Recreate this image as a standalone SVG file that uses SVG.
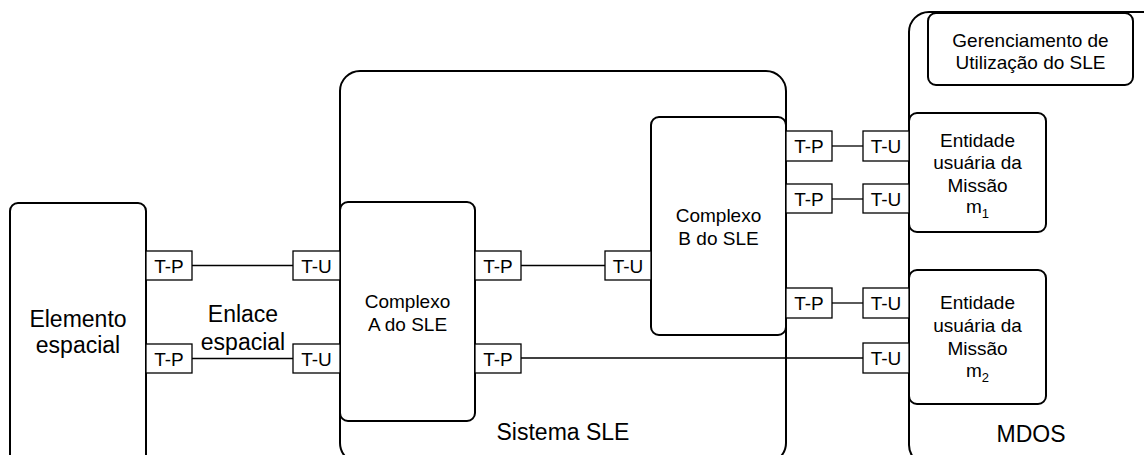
<svg xmlns="http://www.w3.org/2000/svg" width="1144" height="455" viewBox="0 0 1144 455">
<style>
  .frame { fill: #fff; stroke: #000; stroke-width: 2; }
  .box { fill: #fff; stroke: #000; stroke-width: 2; }
  .port { fill: #fff; stroke: #000; stroke-width: 1.3; }
  .link { stroke: #000; stroke-width: 1.3; fill: none; }
  text { font-family: "Liberation Sans", Arial, sans-serif; fill: #000; text-anchor: middle; }
  .s { font-size: 19px; }
  .l { font-size: 23px; }
  .sub { font-size: 13px; }
</style>
<rect width="1144" height="455" fill="#fff"/>

<g id="sistema-sle">
  <rect class="frame" x="340" y="71" width="446" height="392" rx="20"/>
  <text class="l" x="563" y="440">Sistema SLE</text>
</g>

<g id="mdos">
  <rect class="frame" x="909" y="12" width="300" height="453" rx="20"/>
  <text class="l" x="1031" y="442">MDOS</text>
</g>

<g id="elemento-espacial">
  <rect class="box" x="10" y="203" width="136" height="275" rx="8"/>
  <text class="l" x="78" y="327">Elemento</text>
  <text class="l" x="78" y="353">espacial</text>
</g>

<g id="enlace-label">
  <text class="l" x="243" y="322">Enlace</text>
  <text class="l" x="243" y="350">espacial</text>
</g>

<g id="complexo-a">
  <rect class="box" x="340" y="202" width="135" height="219" rx="8"/>
  <text class="s" x="407.5" y="308">Complexo</text>
  <text class="s" x="407.5" y="331">A do SLE</text>
</g>

<g id="complexo-b">
  <rect class="box" x="651" y="117" width="135" height="218" rx="8"/>
  <text class="s" x="718.5" y="222">Complexo</text>
  <text class="s" x="718.5" y="245">B do SLE</text>
</g>

<g id="gerenciamento">
  <rect class="box" x="928" y="13" width="205" height="72" rx="8"/>
  <text class="s" x="1030.5" y="47">Gerenciamento de</text>
  <text class="s" x="1030.5" y="69">Utilização do SLE</text>
</g>

<g id="entidade-m1">
  <rect class="box" x="909" y="113" width="137" height="119" rx="8"/>
  <text class="s" x="977.5" y="147">Entidade</text>
  <text class="s" x="977.5" y="169">usuária da</text>
  <text class="s" x="977.5" y="192">Missão</text>
  <text class="s" x="977.5" y="213">m<tspan class="sub" dy="5">1</tspan></text>
</g>

<g id="entidade-m2">
  <rect class="box" x="909" y="270" width="137" height="134" rx="8"/>
  <text class="s" x="977.5" y="309">Entidade</text>
  <text class="s" x="977.5" y="332">usuária da</text>
  <text class="s" x="977.5" y="355">Missão</text>
  <text class="s" x="977.5" y="377">m<tspan class="sub" dy="5">2</tspan></text>
</g>

<g id="connectors">
  <line class="link" x1="192" y1="265.5" x2="293" y2="265.5"/>
  <line class="link" x1="192" y1="358.5" x2="293" y2="358.5"/>
  <line class="link" x1="521" y1="265.5" x2="605" y2="265.5"/>
  <line class="link" x1="832" y1="146" x2="863" y2="146"/>
  <line class="link" x1="832" y1="199" x2="863" y2="199"/>
  <line class="link" x1="832" y1="303" x2="863" y2="303"/>
  <line class="link" x1="521" y1="358" x2="863" y2="358"/>
</g>

<g id="port-ep-tp1"><rect class="port" x="146" y="251" width="46" height="29"/><text class="s" x="169" y="272.5">T-P</text></g>
<g id="port-ep-tp2"><rect class="port" x="146" y="344" width="46" height="29"/><text class="s" x="169" y="365.5">T-P</text></g>
<g id="port-a-tu1"><rect class="port" x="293" y="251" width="47" height="29"/><text class="s" x="316.5" y="272.5">T-U</text></g>
<g id="port-a-tu2"><rect class="port" x="293" y="344" width="47" height="29"/><text class="s" x="316.5" y="365.5">T-U</text></g>
<g id="port-a-tp1"><rect class="port" x="475" y="251" width="46" height="29"/><text class="s" x="498" y="272.5">T-P</text></g>
<g id="port-a-tp2"><rect class="port" x="475" y="344" width="46" height="29"/><text class="s" x="498" y="365.5">T-P</text></g>
<g id="port-b-tu1"><rect class="port" x="605" y="251" width="46" height="29"/><text class="s" x="628" y="272.5">T-U</text></g>
<g id="port-b-tp1"><rect class="port" x="786" y="131" width="46" height="30"/><text class="s" x="809" y="153">T-P</text></g>
<g id="port-b-tp2"><rect class="port" x="786" y="184" width="46" height="29"/><text class="s" x="809" y="205.5">T-P</text></g>
<g id="port-b-tp3"><rect class="port" x="786" y="288" width="46" height="30"/><text class="s" x="809" y="310">T-P</text></g>
<g id="port-m1-tu1"><rect class="port" x="863" y="131" width="46" height="30"/><text class="s" x="886" y="153">T-U</text></g>
<g id="port-m1-tu2"><rect class="port" x="863" y="184" width="46" height="29"/><text class="s" x="886" y="205.5">T-U</text></g>
<g id="port-m2-tu1"><rect class="port" x="863" y="288" width="46" height="30"/><text class="s" x="886" y="310">T-U</text></g>
<g id="port-m2-tu2"><rect class="port" x="863" y="343" width="46" height="30"/><text class="s" x="886" y="365">T-U</text></g>
</svg>
